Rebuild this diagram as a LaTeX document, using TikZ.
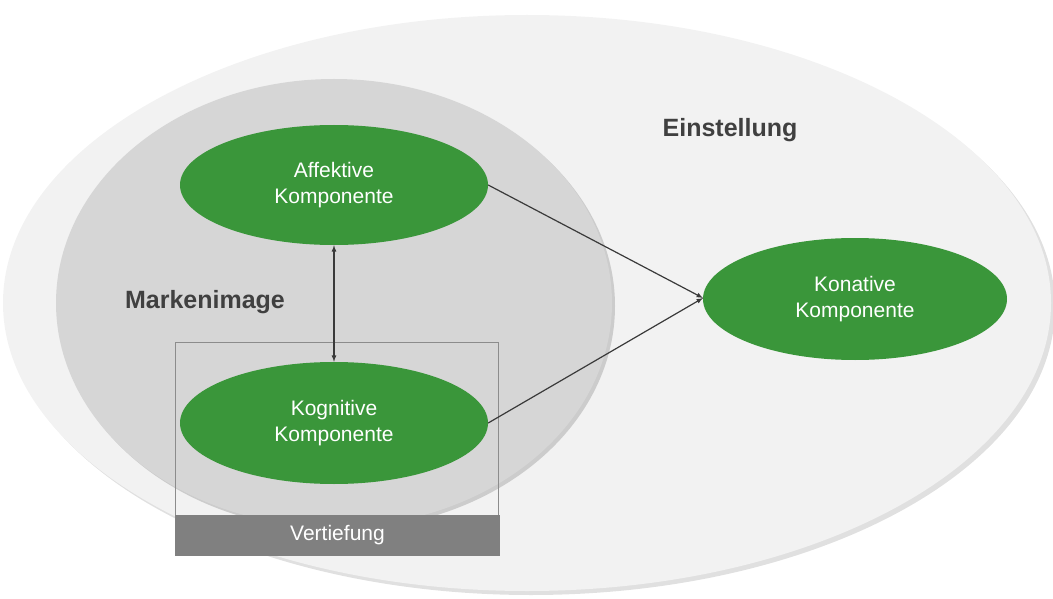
\documentclass[tikz,border=0pt]{standalone}
\usepackage{fontspec}
\setmainfont{Liberation Sans}
\usetikzlibrary{shapes.geometric}
\begin{document}
\begin{tikzpicture}[x=1pt,y=-1pt,
  comp/.style={ellipse,fill=compgreen,text=white,align=center,font=\fontsize{21}{26}\selectfont},
  lbl/.style={font=\bfseries\fontsize{25}{30}\selectfont,text=labelgray},
  arr/.style={draw=arrowgray,line width=1.2pt,-latex}]
\definecolor{compgreen}{HTML}{3A963A}
\definecolor{labelgray}{HTML}{404040}
\definecolor{arrowgray}{HTML}{3A3A3A}
\useasboundingbox (0,0) rectangle (1053,599);
\path[fill=black!12] (531,307) ellipse [x radius=524, y radius=288];
\node[ellipse,fill=black!5,minimum width=1048,minimum height=576,inner sep=0] (outer) at (527,303) {};
\path[fill=black!20] (337,306) ellipse [x radius=278, y radius=224];
\node[ellipse,fill=black!16,minimum width=556,minimum height=448,inner sep=0] (inner) at (334,303) {};
\node[draw=black!45,line width=0.6pt,minimum width=323,minimum height=173,inner sep=0] (box) at (336.5,428.5) {};
\node[fill=black!50,minimum width=325,minimum height=41,inner sep=0,text=white,font=\fontsize{21}{26}\selectfont] (vert) at (337.5,535.5) {Vertiefung};
\node[comp,minimum width=308,minimum height=120,inner sep=0] (aff) at (334,185) {Affektive\\Komponente};
\node[comp,minimum width=308,minimum height=122,inner sep=0] (kog) at (334,423) {Kognitive\\Komponente};
\node[comp,minimum width=304,minimum height=122,inner sep=0] (kon) at (855,299) {Konative\\Komponente};
\node[lbl] (einst) at (730,130) {Einstellung};
\node[lbl] (marke) at (205,302) {Markenimage};
\coordinate (tip) at (703,298);
\draw[arr] (aff.east) -- (tip);
\draw[arr] (kog.east) -- (tip);
\draw[arr,latex-latex] (aff.south) -- (kog.north);
\end{tikzpicture}
\end{document}
